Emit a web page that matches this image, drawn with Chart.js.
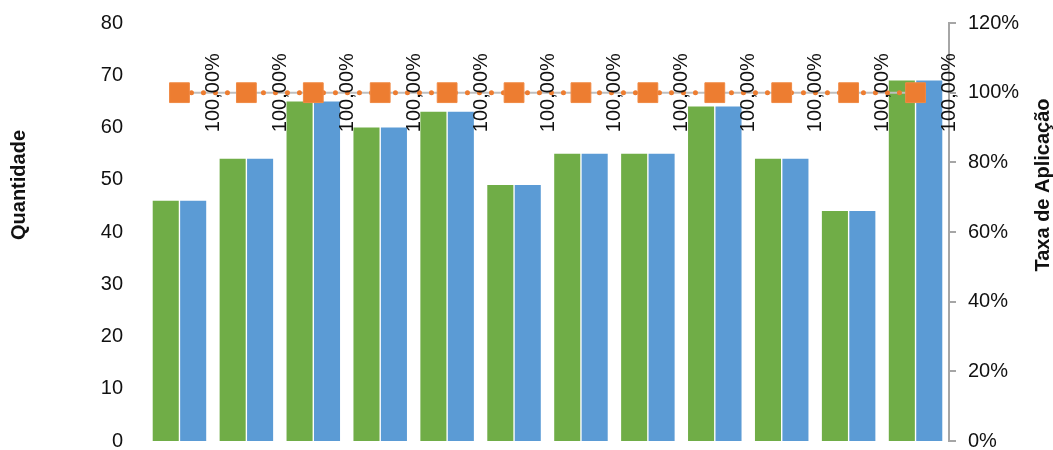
<!DOCTYPE html>
<html>
<head>
<meta charset="utf-8">
<script src="https://cdn.jsdelivr.net/npm/chart.js@4/dist/chart.umd.min.js"></script>
<style>
    html, body { margin: 0; padding: 0; background: #fff; }
    #wrap { width: 1053px; height: 450px; }
</style>
</head>
<body>
<div id="wrap"><canvas id="chart" width="1053" height="450"></canvas></div>
<script>
// --- DATA ---
const categories = ['1', '2', '3', '4', '5', '6', '7', '8', '9', '10', '11', '12'];
const greenValues = [46, 54, 65, 60, 63, 49, 55, 55, 64, 54, 44, 69];
const blueValues = [46, 54, 65, 60, 63, 49, 55, 55, 64, 54, 44, 69];
const rateValues = [100, 100, 100, 100, 100, 100, 100, 100, 100, 100, 100, 100];

const FONT = '"Liberation Sans", Arial, sans-serif';

// rotated labels beside the line points + axis titles
const labelsPlugin = {
    id: 'extraText',
    afterDatasetsDraw(chart) {
        const ctx = chart.ctx;
        const meta = chart.getDatasetMeta(3);
        ctx.save();
        ctx.fillStyle = '#111';
        ctx.font = '20px ' + FONT;
        ctx.textAlign = 'center';
        ctx.textBaseline = 'middle';
        meta.data.forEach((pt, i) => {
            const txt = rateValues[i].toFixed(2).replace('.', ',') + '%';
            ctx.save();
            ctx.translate(pt.x + 34, pt.y);
            ctx.rotate(-Math.PI / 2);
            ctx.fillText(txt, 0, 0);
            ctx.restore();
        });

        ctx.font = 'bold 20px ' + FONT;
        ctx.save();
        ctx.translate(19, 185);
        ctx.rotate(-Math.PI / 2);
        ctx.fillText('Quantidade', 0, 0);
        ctx.restore();

        ctx.save();
        ctx.translate(1043, 185);
        ctx.rotate(-Math.PI / 2);
        ctx.fillText('Taxa de Aplicação', 0, 0);
        ctx.restore();
        ctx.restore();
    }
};

function fixWidth(w) {
    return function (scale) {
        scale.width = w;
        scale.paddingTop = 0;
        scale.paddingBottom = 0;
    };
}

new Chart(document.getElementById('chart').getContext('2d'), {
    type: 'bar',
    data: {
        labels: categories,
        datasets: [
            {
                data: greenValues,
                backgroundColor: '#70AD47',
                borderWidth: 0,
                categoryPercentage: 0.82,
                barPercentage: 0.95,
                yAxisID: 'y',
                order: 3
            },
            {
                data: blueValues,
                backgroundColor: '#5B9BD5',
                borderWidth: 0,
                categoryPercentage: 0.82,
                barPercentage: 0.95,
                yAxisID: 'y',
                order: 3
            },
            {
                type: 'line',
                data: rateValues,
                borderColor: '#BFBFBF',
                borderWidth: 2,
                pointRadius: 0,
                yAxisID: 'y1',
                order: 2
            },
            {
                type: 'line',
                data: rateValues,
                borderColor: '#ED7D31',
                borderWidth: 5,
                borderDash: [0, 12],
                borderCapStyle: 'round',
                pointStyle: 'rect',
                pointRadius: 14,
                pointBackgroundColor: '#ED7D31',
                pointBorderColor: '#F08A45',
                pointBorderWidth: 1,
                yAxisID: 'y1',
                order: 1
            }
        ]
    },
    options: {
        responsive: false,
        animation: false,
        layout: { autoPadding: false, padding: { top: 23, bottom: 9, left: 0, right: 0 } },
        plugins: {
            legend: { display: false },
            tooltip: { enabled: false }
        },
        scales: {
            x: {
                display: false,
                offset: true
            },
            y: {
                position: 'left',
                min: 0,
                max: 80,
                ticks: { stepSize: 10, padding: 23, color: '#111', font: { family: FONT, size: 20 } },
                grid: { display: false, drawTicks: false },
                border: { display: false },
                afterFit: fixWidth(146)
            },
            y1: {
                position: 'right',
                min: 0,
                max: 120,
                ticks: {
                    stepSize: 20,
                    padding: 12,
                    color: '#111',
                    font: { family: FONT, size: 20 },
                    callback: v => v + '%'
                },
                grid: { display: true, drawOnChartArea: false, drawTicks: true, tickLength: 7, color: '#A6A6A6', lineWidth: 2 },
                border: { display: true, color: '#A6A6A6', width: 2 },
                afterFit: fixWidth(104)
            }
        }
    },
    plugins: [labelsPlugin]
});
</script>
</body>
</html>
